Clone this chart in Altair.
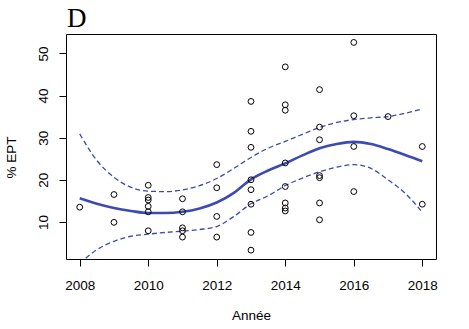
import altair as alt
import pandas as pd

# ---- data ----
pt_year = [2008,
           2009, 2009,
           2010, 2010, 2010, 2010, 2010, 2010,
           2011, 2011, 2011, 2011, 2011,
           2012, 2012, 2012, 2012,
           2013, 2013, 2013, 2013, 2013, 2013, 2013, 2013,
           2014, 2014, 2014, 2014, 2014, 2014, 2014, 2014,
           2015, 2015, 2015, 2015, 2015, 2015, 2015,
           2016, 2016, 2016, 2016,
           2017,
           2018, 2018]
pt_value = [13.5,
            16.5, 9.9,
            18.7, 15.8, 15.2, 13.7, 12.4, 7.9,
            15.5, 12.4, 8.6, 7.9, 6.4,
            23.6, 18.1, 11.3, 6.4,
            38.6, 31.5, 27.7, 20.0, 17.65, 14.2, 7.5, 3.3,
            46.8, 37.8, 36.5, 24.0, 18.4, 14.5, 13.3, 12.6,
            41.4, 32.5, 29.5, 21.0, 20.5, 14.5, 10.5,
            52.6, 35.2, 27.9, 17.2,
            35.0,
            27.9, 14.2]

curve_year = [2008, 2008.5, 2009, 2009.5, 2010, 2010.5, 2011, 2011.5, 2012, 2012.5,
              2013, 2013.5, 2014, 2014.5, 2015, 2015.5, 2016, 2016.5, 2017, 2017.5, 2018]
fit_value = [15.6, 14.3, 13.3, 12.6, 12.1, 12.1, 12.4, 13.2, 14.6, 16.9,
             20.1, 22.2, 23.9, 25.8, 27.5, 28.5, 29.0, 28.5, 27.3, 25.9, 24.4]
upper_value = [30.9, 24.6, 20.6, 18.2, 17.3, 17.2, 17.6, 18.6, 20.3, 22.7,
               25.3, 27.5, 29.1, 30.8, 32.4, 33.6, 34.3, 34.7, 35.0, 35.8, 36.8]
lower_value = [0.1, 3.4, 5.4, 6.6, 7.1, 7.5, 7.8, 8.2, 8.9, 11.3,
               14.3, 16.2, 18.6, 20.4, 21.9, 23.0, 23.6, 22.7, 20.0, 16.8, 12.3]

x_ticks = [2008, 2010, 2012, 2014, 2016, 2018]
y_ticks = [10, 20, 30, 40, 50]
panel_label = "D"
x_title = "Année"
y_title = "% EPT"

points = pd.DataFrame({"year": pt_year, "value": pt_value})
fit = pd.DataFrame({"year": curve_year, "value": fit_value})
upper = pd.DataFrame({"year": curve_year, "value": upper_value})
lower = pd.DataFrame({"year": curve_year, "value": lower_value})
label_df = pd.DataFrame({"t": [panel_label]})

blue = "#3c4ab2"
FONT = "Liberation Sans"

x_enc = alt.X("year:Q",
              scale=alt.Scale(domain=[2007.6, 2018.4], nice=False, zero=False),
              axis=alt.Axis(values=x_ticks, format="d", title=x_title,
                            labelBaseline="alphabetic", labelPadding=23,
                            titleY=56, titleBaseline="middle"))
y_enc = alt.Y("value:Q",
              scale=alt.Scale(domain=[1.2, 54.6], nice=False, zero=False),
              axis=alt.Axis(values=y_ticks, title=y_title,
                            labelAngle=-90, labelAlign="center",
                            labelBaseline="alphabetic", labelPadding=12,
                            titleAngle=-90, titleX=-55, titleY=123,
                            titleAlign="center", titleBaseline="middle"))

pts = alt.Chart(points).mark_point(shape="circle", filled=False, color="black",
                                   size=34, strokeWidth=1, opacity=1).encode(x=x_enc, y=y_enc)
fit_line = alt.Chart(fit).mark_line(color=blue, strokeWidth=2.6,
                                    interpolate="monotone").encode(x="year:Q", y="value:Q")
up_line = alt.Chart(upper).mark_line(color=blue, strokeWidth=1.3, strokeDash=[5, 3],
                                     interpolate="monotone", clip=True).encode(x="year:Q", y="value:Q")
lo_line = alt.Chart(lower).mark_line(color=blue, strokeWidth=1.3, strokeDash=[5, 3],
                                     interpolate="monotone", clip=True).encode(x="year:Q", y="value:Q")
title_txt = alt.Chart(label_df).mark_text(font="Liberation Serif", fontSize=27,
                                          align="left", baseline="alphabetic",
                                          color="black").encode(
    text="t:N", x=alt.value(1), y=alt.value(-7))

chart = alt.layer(up_line, lo_line, fit_line, pts, title_txt).properties(
    width=370, height=225,
    autosize=alt.AutoSizeParams(type="none"),
    padding={"left": 66, "top": 34, "right": 33, "bottom": 70},
    background="white",
).configure_view(stroke="black", strokeWidth=1).configure_axis(
    grid=False, domain=False, tickColor="black", tickSize=7, tickWidth=1,
    labelFont=FONT, labelFontSize=13.5, labelColor="black",
    titleFont=FONT, titleFontSize=13.5, titleFontWeight="normal", titleColor="black",
)

chart.save("out.html", embed_options={"renderer": "svg", "actions": False})
